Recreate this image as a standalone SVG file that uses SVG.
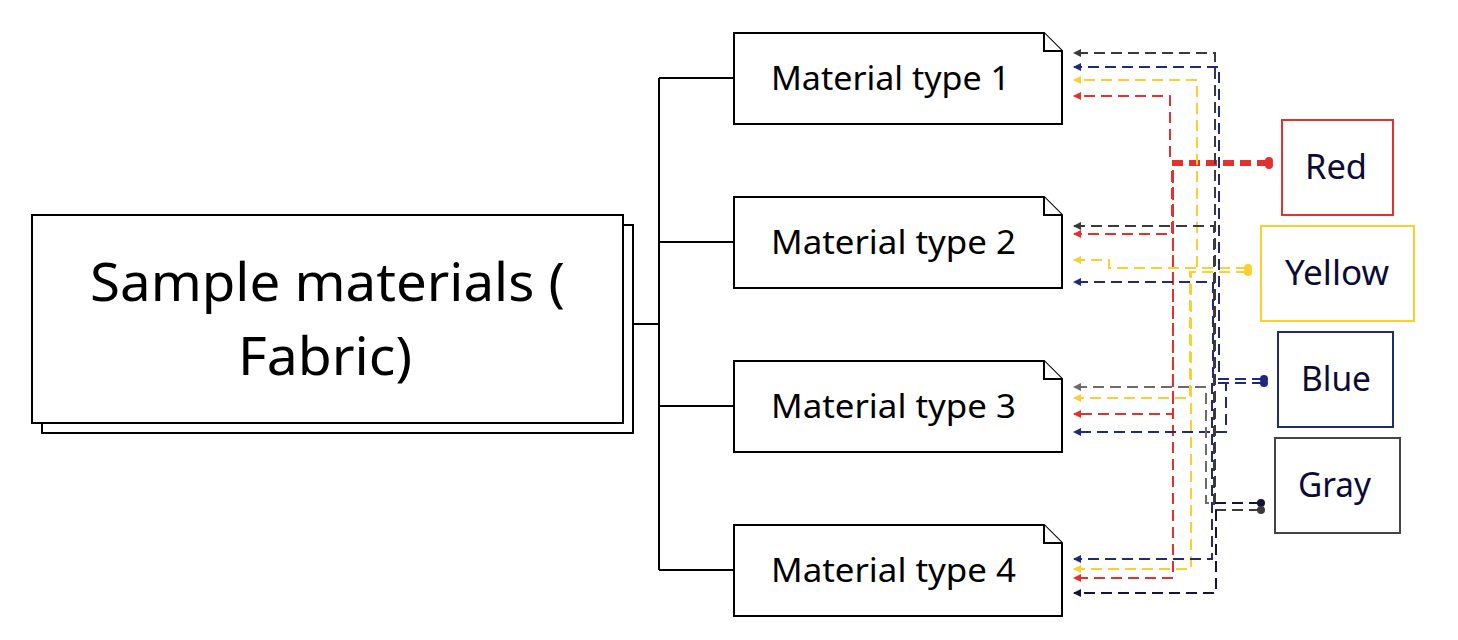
<svg xmlns="http://www.w3.org/2000/svg" width="1458" height="640" viewBox="0 0 1458 640">
<style>
.box{fill:#fff;stroke:#000;stroke-width:2}
.t{font-family:"Noto Sans","Open Sans",sans-serif;fill:#000}
.main{font-size:53px}
.mt{font-size:33px}
.cl{font-size:34px;fill:#0b0b35}
.tree{fill:none;stroke:#000;stroke-width:2}
.c{fill:none;stroke-width:2;stroke-dasharray:11 6}
.red{stroke:#e53030}.yel{stroke:#f9d030}.blu{stroke:#1f2a7a}.gry{stroke:#3a3a3a}.mgr{stroke:#6b6b6b}.nav{stroke:#14143a}
</style>
<defs>
<marker id="aR" markerWidth="8" markerHeight="8" refX="7" refY="4" orient="auto" markerUnits="userSpaceOnUse"><path d="M0,0L8,4L0,8z" fill="#e53030"/></marker>
<marker id="aY" markerWidth="8" markerHeight="8" refX="7" refY="4" orient="auto" markerUnits="userSpaceOnUse"><path d="M0,0L8,4L0,8z" fill="#f9d030"/></marker>
<marker id="aB" markerWidth="8" markerHeight="8" refX="7" refY="4" orient="auto" markerUnits="userSpaceOnUse"><path d="M0,0L8,4L0,8z" fill="#1f2a7a"/></marker>
<marker id="aG" markerWidth="8" markerHeight="8" refX="7" refY="4" orient="auto" markerUnits="userSpaceOnUse"><path d="M0,0L8,4L0,8z" fill="#3a3a3a"/></marker>
<marker id="aM" markerWidth="8" markerHeight="8" refX="7" refY="4" orient="auto" markerUnits="userSpaceOnUse"><path d="M0,0L8,4L0,8z" fill="#6b6b6b"/></marker>
<marker id="aN" markerWidth="8" markerHeight="8" refX="7" refY="4" orient="auto" markerUnits="userSpaceOnUse"><path d="M0,0L8,4L0,8z" fill="#14143a"/></marker>
</defs>

<g id="main">
<rect class="box" x="42" y="225" width="591" height="208"/>
<rect class="box" x="32" y="215" width="591" height="208"/>
<text class="t main" x="90" y="301" textLength="475" lengthAdjust="spacingAndGlyphs">Sample materials (</text>
<text class="t main" x="238" y="375" textLength="174" lengthAdjust="spacingAndGlyphs">Fabric)</text>
</g>

<g id="tree">
<path class="tree" d="M633,324H659M659,78V570M659,78H734M659,242H734M659,406H734M659,570H734"/>
</g>

<g id="m1"><path class="box" d="M734,33H1044L1062,51V124H734Z"/><path class="box" d="M1044,33V51H1062"/><text class="t mt" x="771" y="90" textLength="239" lengthAdjust="spacingAndGlyphs">Material type 1</text></g>
<g id="m2"><path class="box" d="M734,197H1044L1062,215V288H734Z"/><path class="box" d="M1044,197V215H1062"/><text class="t mt" x="771" y="254" textLength="245" lengthAdjust="spacingAndGlyphs">Material type 2</text></g>
<g id="m3"><path class="box" d="M734,361H1044L1062,379V452H734Z"/><path class="box" d="M1044,361V379H1062"/><text class="t mt" x="771" y="418" textLength="245" lengthAdjust="spacingAndGlyphs">Material type 3</text></g>
<g id="m4"><path class="box" d="M734,525H1044L1062,543V616H734Z"/><path class="box" d="M1044,525V543H1062"/><text class="t mt" x="771" y="582" textLength="245" lengthAdjust="spacingAndGlyphs">Material type 4</text></g>

<g id="red"><rect x="1282" y="120" width="111" height="95" fill="#fff" stroke="#e53030" stroke-width="2"/><text class="t cl" x="1305" y="179" textLength="62" lengthAdjust="spacingAndGlyphs">Red</text></g>
<g id="yellow"><rect x="1261" y="226" width="153" height="95" fill="#fff" stroke="#f9d030" stroke-width="2"/><text class="t cl" x="1285" y="285" textLength="104" lengthAdjust="spacingAndGlyphs">Yellow</text></g>
<g id="blue"><rect x="1278" y="332" width="115" height="95" fill="#fff" stroke="#1f2a7a" stroke-width="2"/><text class="t cl" x="1301" y="391" textLength="70" lengthAdjust="spacingAndGlyphs">Blue</text></g>
<g id="gray"><rect x="1275" y="438" width="125" height="95" fill="#fff" stroke="#444" stroke-width="2"/><text class="t cl" x="1298" y="497" textLength="73" lengthAdjust="spacingAndGlyphs">Gray</text></g>

<g id="connectors">
<path class="c red" d="M1268,161H1170V96H1074" marker-end="url(#aR)"/>
<path class="c red" d="M1268,165H1172V234H1074" marker-end="url(#aR)"/>
<path class="c red" d="M1268,165H1173V414H1074" marker-end="url(#aR)"/>
<path class="c red" d="M1268,163H1173V578H1074" marker-end="url(#aR)"/>
<path class="c yel" d="M1247,268H1197V80H1074" marker-end="url(#aY)"/>
<path class="c yel" d="M1247,268H1109V260H1074" marker-end="url(#aY)"/>
<path class="c yel" d="M1247,272H1190V398H1074" marker-end="url(#aY)"/>
<path class="c yel" d="M1247,272H1191V569H1074" marker-end="url(#aY)"/>
<path class="c blu" d="M1263,379H1219V67H1074" marker-end="url(#aB)"/>
<path class="c blu" d="M1263,379H1213V282H1074" marker-end="url(#aB)"/>
<path class="c blu" d="M1263,383H1226V432H1074" marker-end="url(#aB)"/>
<path class="c blu" d="M1263,383H1212V559H1074" marker-end="url(#aB)"/>
<path class="c gry" d="M1260,510H1215V53H1074" marker-end="url(#aG)"/>
<path class="c gry" d="M1260,510H1214V226H1074" marker-end="url(#aG)"/>
<path class="c mgr" d="M1260,503H1206V387H1074" marker-end="url(#aM)"/>
<path class="c nav" d="M1260,503H1216V593H1074" marker-end="url(#aN)"/>
<circle cx="1269" cy="161" r="4" fill="#e53030"/><circle cx="1269" cy="165" r="4" fill="#e53030"/>
<circle cx="1248" cy="268" r="4" fill="#f9d030"/><circle cx="1248" cy="272" r="4" fill="#f9d030"/>
<circle cx="1264" cy="379" r="4" fill="#1f2a7a"/><circle cx="1264" cy="383" r="4" fill="#1f2a7a"/>
<circle cx="1261" cy="503" r="4" fill="#14143a"/><circle cx="1261" cy="510" r="4" fill="#3a3a3a"/>
</g>
</svg>
